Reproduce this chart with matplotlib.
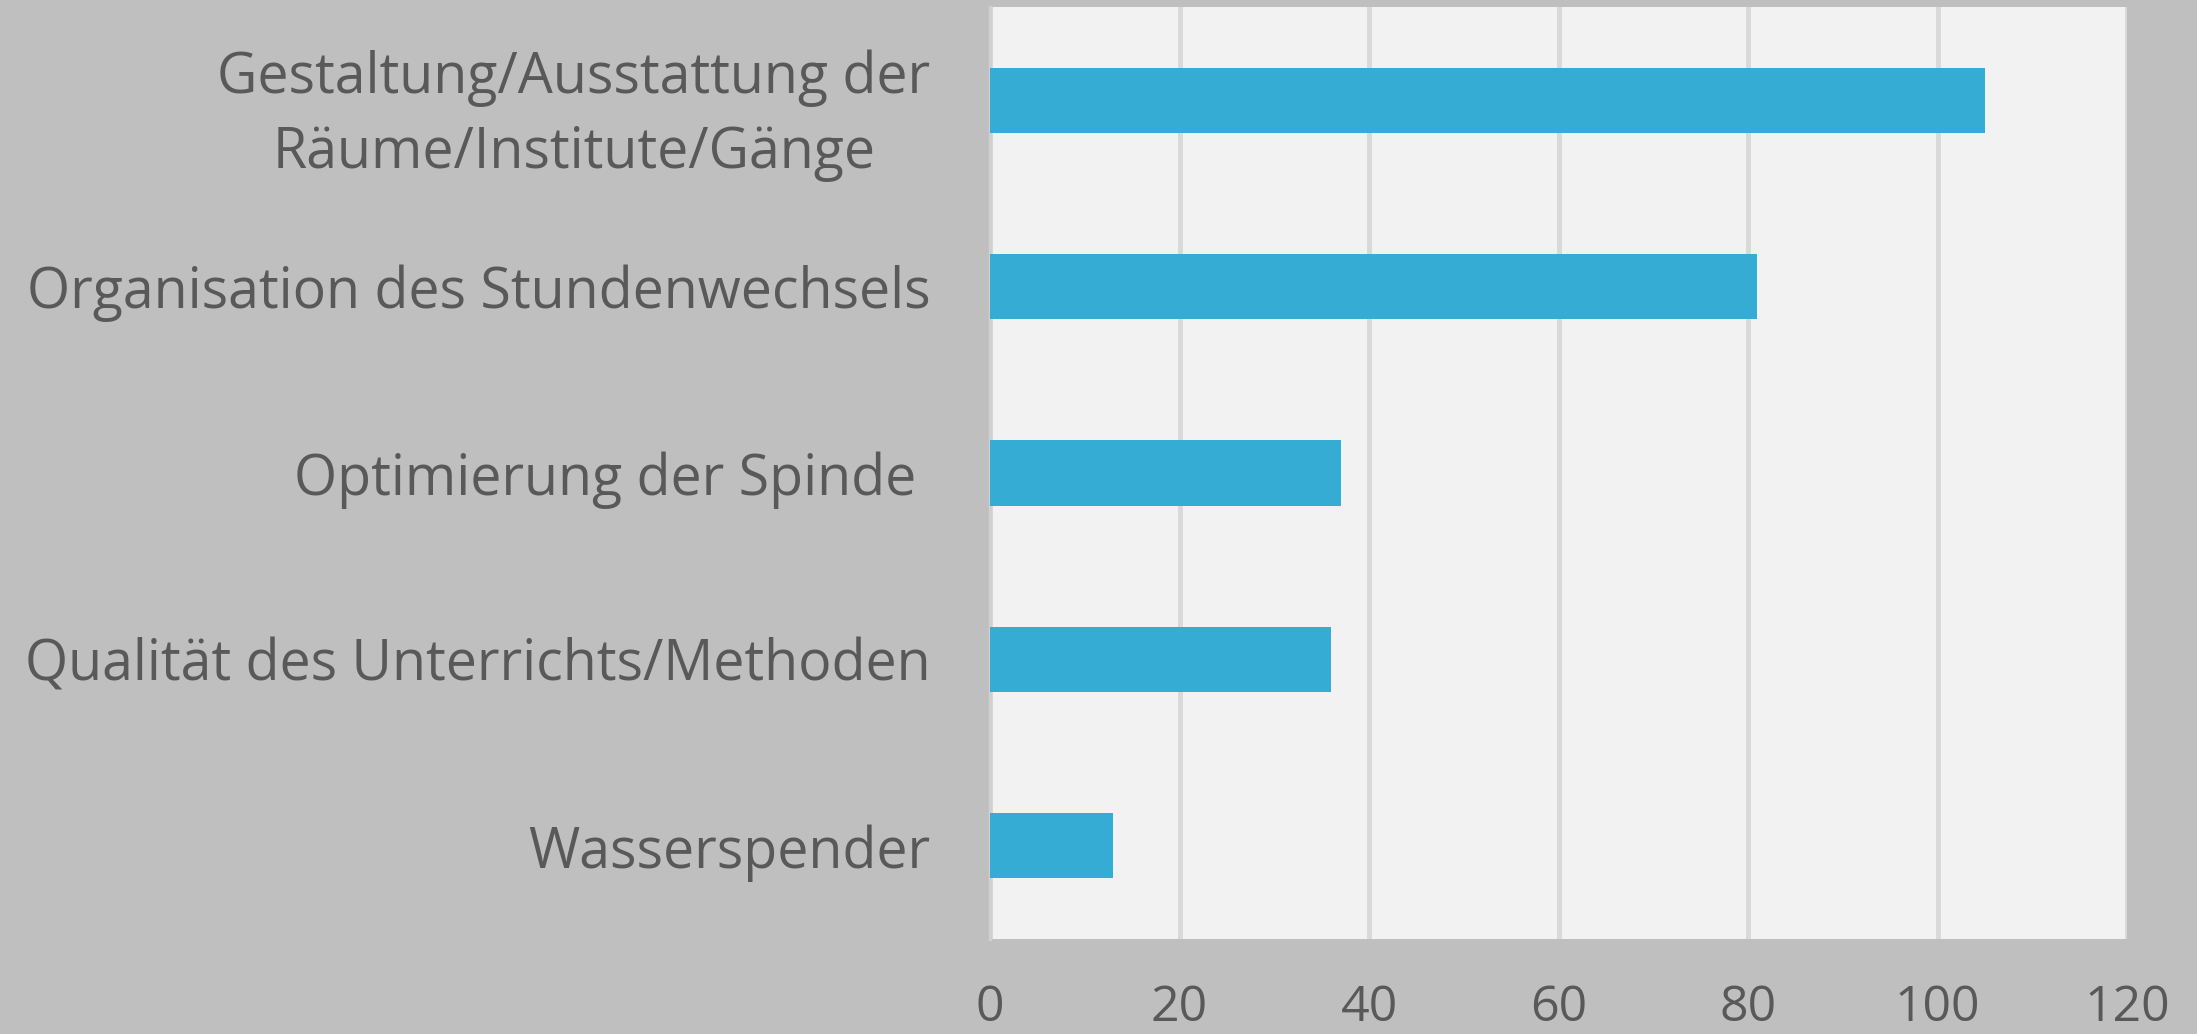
import matplotlib
matplotlib.use("Agg")
import matplotlib.pyplot as plt

categories = [
    "Gestaltung/Ausstattung der\nRäume/Institute/Gänge",
    "Organisation des Stundenwechsels",
    "Optimierung der Spinde ",
    "Qualität des Unterrichts/Methoden",
    "Wasserspender",
]
values = [105, 81, 37, 36, 13]
xticks = [0, 20, 40, 60, 80, 100, 120]

plt.rcParams['font.family'] = ['Open Sans', 'DejaVu Sans']

fig = plt.figure(figsize=(21.97, 10.34), dpi=100, facecolor='#BFBFBF')
ax = fig.add_axes([990 / 2197, 1 - 939 / 1034, (2127 - 990) / 2197, (939 - 7) / 1034])
ax.set_facecolor('#F2F2F2')

pos = list(range(len(categories)))
ax.barh(pos, values, height=0.35, color='#35ACD3', zorder=3)
ax.set_ylim(len(categories) - 0.5, -0.5)
ax.set_xlim(0, 120)

ax.set_xticks(xticks)
ax.grid(axis='x', color='#D9D9D9', linewidth=3.5, zorder=1)
for s in ['top', 'right', 'bottom']:
    ax.spines[s].set_visible(False)
ax.spines['left'].set_color('#D0D0D0')
ax.spines['left'].set_linewidth(2.5)

ax.set_yticks(pos)
ax.set_yticklabels(categories, fontsize=40, color='#595959', ha='right',
                   multialignment='center', linespacing=1.4)
ax.tick_params(axis='y', length=0, pad=43)
ax.tick_params(axis='x', length=0, pad=32, labelsize=36, labelcolor='#595959')

fig.savefig('out.png', dpi=100, facecolor=fig.get_facecolor())
